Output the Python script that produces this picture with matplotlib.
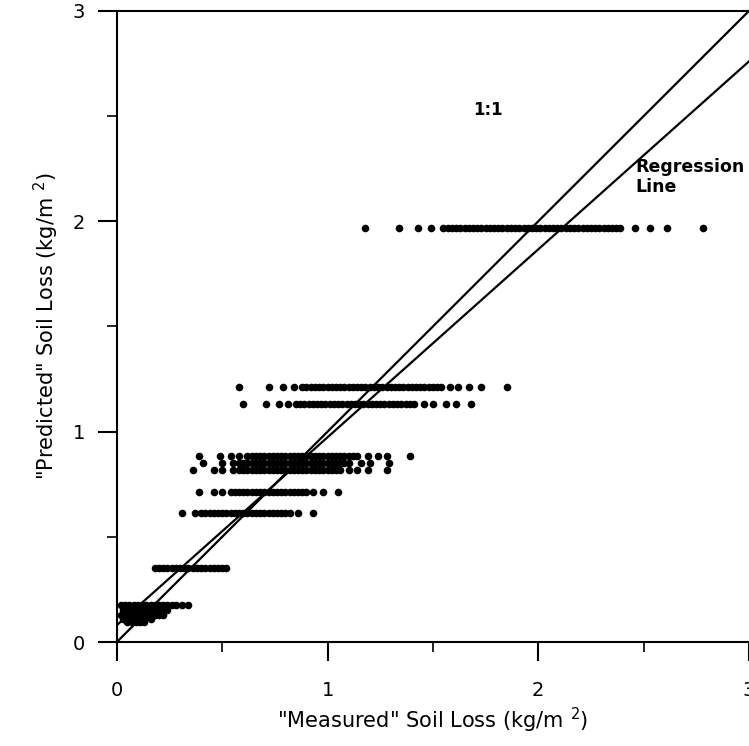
import matplotlib
matplotlib.use("Agg")
import matplotlib.pyplot as plt
from matplotlib.ticker import MultipleLocator

# predicted levels (rows) and the measured values on each row
row_197 = [1.18, 1.34, 1.43, 1.49, 1.55, 1.57, 1.59, 1.61, 1.63, 1.65, 1.67, 1.69, 1.71, 1.73,
           1.75, 1.77, 1.79, 1.81, 1.83, 1.85, 1.87, 1.89, 1.91, 1.93, 1.95, 1.97, 1.99, 2.01,
           2.03, 2.05, 2.07, 2.09, 2.11, 2.13, 2.15, 2.17, 2.19, 2.21, 2.23, 2.25, 2.27, 2.29,
           2.31, 2.33, 2.35, 2.37, 2.39, 2.46, 2.53, 2.61, 2.78]
row_121 = [0.58, 0.72, 0.79, 0.84, 0.88, 0.90, 0.92, 0.94, 0.96, 0.98, 1.00, 1.02, 1.04, 1.06,
           1.08, 1.10, 1.12, 1.14, 1.16, 1.18, 1.20, 1.22, 1.24, 1.26, 1.28, 1.30, 1.32, 1.34,
           1.36, 1.38, 1.40, 1.42, 1.44, 1.46, 1.48, 1.50, 1.52, 1.54, 1.58, 1.62, 1.67, 1.73, 1.85]
row_113 = [0.60, 0.71, 0.77, 0.81, 0.85, 0.87, 0.89, 0.91, 0.93, 0.95, 0.97, 0.99, 1.01, 1.03,
           1.05, 1.07, 1.09, 1.11, 1.13, 1.15, 1.17, 1.19, 1.21, 1.23, 1.25, 1.27, 1.29, 1.31,
           1.33, 1.35, 1.37, 1.39, 1.41, 1.46, 1.50, 1.56, 1.61, 1.68]
row_088 = [0.39, 0.49, 0.54, 0.58, 0.62, 0.64, 0.66, 0.68, 0.70, 0.72, 0.74, 0.76, 0.78, 0.80,
           0.82, 0.84, 0.86, 0.88, 0.90, 0.92, 0.94, 0.96, 0.98, 1.00, 1.02, 1.04, 1.06, 1.08,
           1.10, 1.12, 1.14, 1.19, 1.24, 1.28, 1.39]
row_085 = [0.41, 0.50, 0.55, 0.58, 0.60, 0.62, 0.64, 0.66, 0.68, 0.70, 0.72, 0.74, 0.76, 0.78,
           0.80, 0.82, 0.84, 0.86, 0.88, 0.90, 0.92, 0.94, 0.96, 0.98, 1.00, 1.02, 1.04, 1.06,
           1.08, 1.10, 1.16, 1.20, 1.29]
row_082 = [0.36, 0.46, 0.50, 0.55, 0.58, 0.60, 0.62, 0.64, 0.66, 0.68, 0.70, 0.72, 0.74, 0.76,
           0.78, 0.80, 0.82, 0.84, 0.86, 0.88, 0.90, 0.92, 0.94, 0.96, 0.98, 1.00, 1.02, 1.04,
           1.06, 1.10, 1.14, 1.19, 1.28]
row_071 = [0.39, 0.46, 0.50, 0.54, 0.56, 0.58, 0.60, 0.62, 0.64, 0.66, 0.68, 0.70, 0.72, 0.74,
           0.76, 0.78, 0.80, 0.82, 0.84, 0.86, 0.88, 0.90, 0.93, 0.98, 1.05]
row_061 = [0.31, 0.37, 0.40, 0.42, 0.44, 0.46, 0.48, 0.50, 0.52, 0.54, 0.56, 0.58, 0.60, 0.62,
           0.64, 0.66, 0.68, 0.70, 0.72, 0.74, 0.76, 0.78, 0.80, 0.82, 0.86, 0.93]
row_035 = [0.18, 0.20, 0.22, 0.24, 0.26, 0.28, 0.30, 0.32, 0.34, 0.36, 0.38, 0.40, 0.42, 0.44,
           0.46, 0.48, 0.50, 0.52]
row_018 = [0.02, 0.04, 0.06, 0.08, 0.10, 0.12, 0.14, 0.16, 0.18, 0.20, 0.22, 0.24, 0.26, 0.28,
           0.31, 0.34]
row_015 = [0.03, 0.05, 0.07, 0.09, 0.11, 0.13, 0.15, 0.17, 0.19, 0.21, 0.24]
row_013 = [0.02, 0.04, 0.06, 0.08, 0.10, 0.12, 0.14, 0.16, 0.18, 0.20, 0.22]
row_011 = [0.03, 0.05, 0.07, 0.09, 0.11, 0.13, 0.16]
row_010 = [0.05, 0.07, 0.09, 0.11, 0.13]

rows = {1.97: row_197, 1.21: row_121, 1.13: row_113, 0.884: row_088, 0.85: row_085,
        0.817: row_082, 0.714: row_071, 0.611: row_061, 0.35: row_035, 0.176: row_018,
        0.15: row_015, 0.13: row_013, 0.11: row_011, 0.095: row_010}

one_to_one_x = [0, 3]
one_to_one_y = [0, 3]
reg_x = [0, 3]
reg_y = [0.08, 2.76]

plt.rcParams['font.family'] = ['DejaVu Sans']
plt.rcParams['mathtext.fontset'] = 'dejavusans'

fig = plt.figure(figsize=(7.49, 7.46), dpi=100)
ax = fig.add_axes([0.156, 0.1394, 0.844, 0.846])

for yv, xs in rows.items():
    ax.scatter(xs, [yv] * len(xs), s=30, color='black', linewidths=0, zorder=3)

ax.plot(one_to_one_x, one_to_one_y, color='black', lw=1.6, zorder=2)
ax.plot(reg_x, reg_y, color='black', lw=1.6, zorder=2)

ax.text(1.76, 2.53, '1:1', fontsize=12, fontweight='bold', ha='center', va='center')
ax.text(2.46, 2.21, 'Regression\nLine', fontsize=12.5, fontweight='bold', ha='left', va='center',
        linespacing=1.2)

ax.set_xlim(0, 3)
ax.set_ylim(0, 3)
ax.xaxis.set_major_locator(MultipleLocator(1))
ax.yaxis.set_major_locator(MultipleLocator(1))
ax.xaxis.set_minor_locator(MultipleLocator(0.5))
ax.yaxis.set_minor_locator(MultipleLocator(0.5))
ax.tick_params(which='major', direction='out', length=14, width=1.5, labelsize=14)
ax.tick_params(which='minor', direction='out', length=7, width=1.2)
ax.tick_params(axis='x', which='major', pad=14)
ax.tick_params(axis='y', which='major', pad=9)

for side in ['left', 'bottom', 'top']:
    ax.spines[side].set_linewidth(1.5)
ax.spines['right'].set_visible(False)

ax.set_xlabel('"Measured" Soil Loss (kg/m $^{2}$)', fontsize=15, labelpad=4)
ax.set_ylabel('"Predicted" Soil Loss (kg/m $^{2}$)', fontsize=15, labelpad=8)

fig.savefig('out.png', dpi=100)
